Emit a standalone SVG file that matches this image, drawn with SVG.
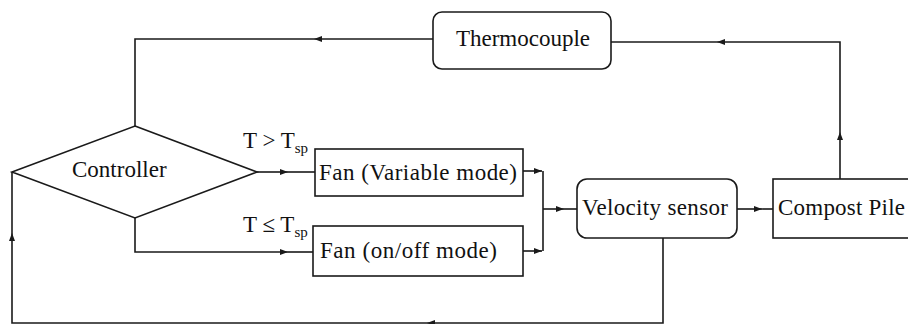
<svg xmlns="http://www.w3.org/2000/svg" width="908" height="324" viewBox="0 0 908 324">
<defs>
<style>
.box{fill:#fff;stroke:#1a1a1a;stroke-width:1.6}
.ln{fill:none;stroke:#1a1a1a;stroke-width:1.6}
text{font-family:'Liberation Serif','DejaVu Serif',serif;font-size:23px;fill:#111}
.sub{font-size:15px}
</style>
<marker id="arr" markerUnits="userSpaceOnUse" markerWidth="9" markerHeight="7" refX="8" refY="3.5" orient="auto">
<path d="M0,0.5 L8,3.5 L0,6.5 Z" fill="#1a1a1a"/>
</marker>
</defs>
<rect width="908" height="324" fill="#fff"/>
<g id="connectors">
<path class="ln" d="M433,39 H314" marker-end="url(#arr)"/>
<path class="ln" d="M314,39 H135 V126"/>
<path class="ln" d="M840,179 V132" marker-end="url(#arr)"/>
<path class="ln" d="M840,132 V42 H717" marker-end="url(#arr)"/>
<path class="ln" d="M717,42 H611"/>
<path class="ln" d="M257,172 H288" marker-end="url(#arr)"/>
<path class="ln" d="M288,172 H315"/>
<path class="ln" d="M135,218 V252 H288" marker-end="url(#arr)"/>
<path class="ln" d="M288,252 H313"/>
<path class="ln" d="M523,171 H542" marker-end="url(#arr)"/>
<path class="ln" d="M523,251 H542" marker-end="url(#arr)"/>
<path class="ln" d="M543,171 V251"/>
<path class="ln" d="M543,209 H564" marker-end="url(#arr)"/>
<path class="ln" d="M564,209 H577"/>
<path class="ln" d="M737,209 H762" marker-end="url(#arr)"/>
<path class="ln" d="M762,209 H773"/>
<path class="ln" d="M663,238 V323 H427" marker-end="url(#arr)"/>
<path class="ln" d="M427,323 H12 V233" marker-end="url(#arr)"/>
<path class="ln" d="M12,233 V172"/>
</g>
<g id="thermocouple">
<rect class="box" x="433" y="12" width="178" height="57" rx="9"/>
<text font-family="Liberation Serif, serif" x="523" y="46" text-anchor="middle">Thermocouple</text>
</g>
<g id="controller">
<polygon class="box" points="135,126 257,172 135,218 12,172"/>
<text font-family="Liberation Serif, serif" x="72" y="177">Controller</text>
</g>
<g id="label-gt">
<text font-family="Liberation Serif, serif" x="243" y="148">T &gt; T<tspan class="sub" dy="5">sp</tspan></text>
</g>
<g id="label-le">
<text font-family="Liberation Serif, serif" x="243" y="232">T ≤ T<tspan class="sub" dy="5">sp</tspan></text>
</g>
<g id="fan-variable">
<rect class="box" x="315" y="149" width="208" height="47"/>
<text font-family="Liberation Serif, serif" x="319" y="180" textLength="198" lengthAdjust="spacing">Fan (Variable mode)</text>
</g>
<g id="fan-onoff">
<rect class="box" x="313" y="226" width="210" height="50"/>
<text font-family="Liberation Serif, serif" x="320" y="258" textLength="177" lengthAdjust="spacing">Fan (on/off mode)</text>
</g>
<g id="velocity-sensor">
<rect class="box" x="577" y="179" width="160" height="59" rx="10"/>
<text font-family="Liberation Serif, serif" x="582" y="215" textLength="146" lengthAdjust="spacing">Velocity sensor</text>
</g>
<g id="compost-pile">
<rect class="box" x="773" y="179" width="180" height="59"/>
<text font-family="Liberation Serif, serif" x="778" y="215" textLength="127" lengthAdjust="spacing">Compost Pile</text>
</g>
</svg>
